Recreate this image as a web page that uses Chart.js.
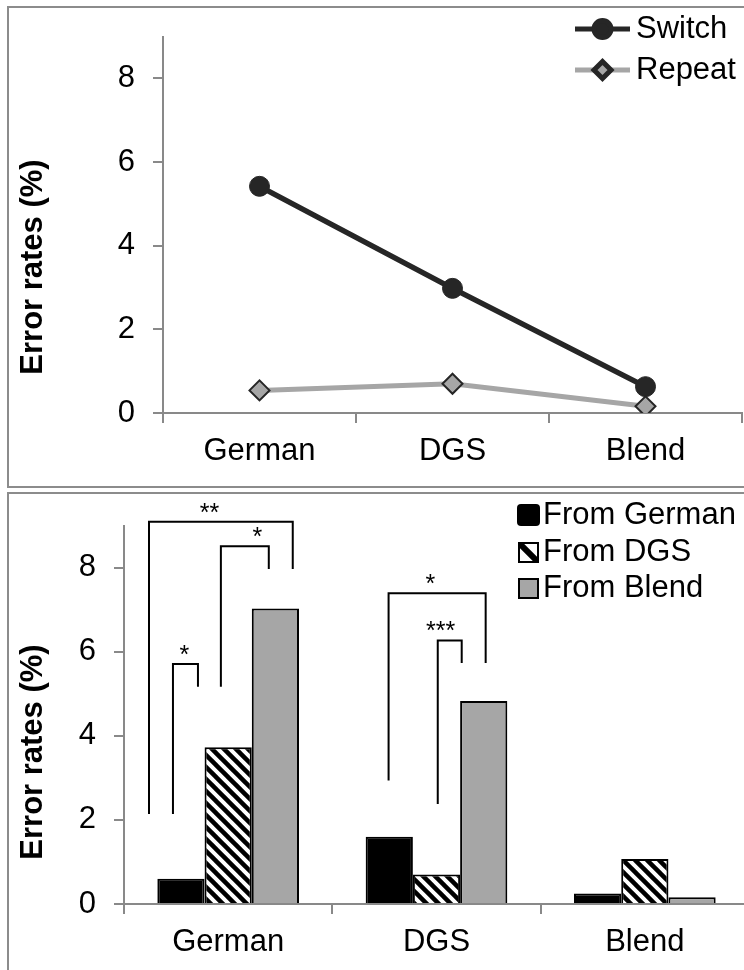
<!DOCTYPE html>
<html>
<head>
<meta charset="utf-8">
<script src="https://cdn.jsdelivr.net/npm/chart.js@4.4.1/dist/chart.umd.min.js"></script>
<style>
  html, body { margin: 0; padding: 0; background: #fff; overflow: hidden; width: 744px; height: 970px; }
  .frame { position: absolute; border: 2px solid #8c8c8c; box-sizing: border-box; }
  canvas { position: absolute; left: 0; }
</style>
</head>
<body>
<div class="frame" style="left:7px; top:6px; width:800px; height:482px;"></div>
<div class="frame" style="left:7px; top:492px; width:800px; height:600px;"></div>
<canvas id="lineChart" width="744" height="486" style="top:0"></canvas>
<canvas id="barChart" width="760" height="481" style="top:489px"></canvas>
<script>
// --- data ---
const categories = ['German', 'DGS', 'Blend'];
const switchRates = [5.42, 2.98, 0.63];
const repeatRates = [0.54, 0.70, 0.16];
const fromGerman = [0.60, 1.60, 0.25];
const fromDGS = [3.73, 0.70, 1.07];
const fromBlend = [7.03, 4.83, 0.16];
const yTicks = [0, 2, 4, 6, 8];
const yMax = 9;
const yTitle = 'Error rates (%)';

// significance brackets (x in category units, y in %)
const sigBrackets = [
  { label: '**',  x1: -0.38, x2: 0.31,  top: 9.09, leg1: 2.14, leg2: 7.97, labelX: -0.09 },
  { label: '*',   x1: -0.035, x2: 0.195, top: 8.51, leg1: 5.17, leg2: 7.97, labelX: 0.14 },
  { label: '*',   x1: -0.265, x2: -0.145, top: 5.71, leg1: 2.14, leg2: 5.17, labelX: -0.21 },
  { label: '*',   x1: 0.77,  x2: 1.236, top: 7.39, leg1: 2.94, leg2: 5.73, labelX: 0.97 },
  { label: '***', x1: 1.006, x2: 1.121, top: 6.27, leg1: 2.38, leg2: 5.73, labelX: 1.02 }
];

const axisGray = '#898989';
const fontFamily = "'Liberation Sans', Arial, sans-serif";

// hatch pattern for the "From DGS" bars
const barCtx = document.getElementById('barChart').getContext('2d');
const makeHatch = () => {
  const c = document.createElement('canvas');
  c.width = 12; c.height = 12;
  const g = c.getContext('2d');
  g.fillStyle = '#fff';
  g.fillRect(0, 0, 12, 12);
  g.strokeStyle = '#000';
  g.lineWidth = 4.5;
  [-12, 0, 12].forEach(k => {
    g.beginPath();
    g.moveTo(k - 2, -2);
    g.lineTo(k + 14, 14);
    g.stroke();
  });
  return barCtx.createPattern(c, 'repeat');
};
const hatch = makeHatch();

// --- shared axis setup ---
const makeY = (w) => ({
  min: 0,
  max: yMax,
  afterBuildTicks: s => { s.ticks = yTicks.map(v => ({ value: v })); },
  afterFit: s => { s.width = w; },
  border: { display: true, color: axisGray, width: 2 },
  grid: { display: true, drawOnChartArea: false, drawTicks: true, tickLength: 10, color: axisGray, lineWidth: 2 },
  ticks: { color: '#000', font: { family: fontFamily, size: 31 }, padding: 18 }
});
const makeX = (h) => ({
  type: 'category',
  offset: true,
  afterFit: s => { s.height = h; },
  border: { display: true, color: axisGray, width: 2 },
  grid: { display: true, offset: true, drawOnChartArea: false, drawTicks: true, tickLength: 10, color: axisGray, lineWidth: 2 },
  ticks: { color: '#000', font: { family: fontFamily, size: 31 }, padding: 10, maxRotation: 0, autoSkip: false }
});

// rotated y title
const yTitlePlugin = {
  id: 'yTitle',
  afterDraw(chart, args, opts) {
    const ctx = chart.ctx;
    ctx.save();
    ctx.translate(opts.x, opts.y);
    ctx.rotate(-Math.PI / 2);
    ctx.font = `bold 31px ${fontFamily}`;
    ctx.fillStyle = '#000';
    ctx.textAlign = 'center';
    ctx.textBaseline = 'middle';
    ctx.fillText(yTitle, 0, 0);
    ctx.restore();
  }
};

// legend with line + marker (top chart)
const lineLegendPlugin = {
  id: 'lineLegend',
  afterDraw(chart, args, opts) {
    const ctx = chart.ctx;
    chart.data.datasets.forEach((ds, i) => {
      const y = opts.rows[i];
      ctx.save();
      ctx.strokeStyle = ds.borderColor;
      ctx.lineWidth = 5;
      ctx.beginPath();
      ctx.moveTo(opts.x1, y);
      ctx.lineTo(opts.x2, y);
      ctx.stroke();
      ctx.fillStyle = ds.pointBackgroundColor;
      ctx.strokeStyle = ds.pointBorderColor;
      Chart.helpers.drawPoint(ctx, { pointStyle: ds.pointStyle, radius: 8.5, borderWidth: ds.pointBorderWidth, rotation: 0 }, (opts.x1 + opts.x2) / 2, y);
      ctx.fillStyle = '#000';
      ctx.font = `31px ${fontFamily}`;
      ctx.textAlign = 'left';
      ctx.textBaseline = 'middle';
      ctx.fillText(ds.label, opts.textX, y);
      ctx.restore();
    });
  }
};

// legend with boxes (bar chart)
const boxLegendPlugin = {
  id: 'boxLegend',
  afterDraw(chart, args, opts) {
    const ctx = chart.ctx;
    chart.data.datasets.forEach((ds, i) => {
      const y = opts.rows[i];
      ctx.save();
      if (i === 0) {
        ctx.fillStyle = '#000';
        ctx.beginPath();
        ctx.roundRect(opts.x - 11, y - 11, 23, 22, 4);
        ctx.fill();
      } else {
        ctx.fillStyle = i === 1 ? '#fff' : ds.backgroundColor;
        ctx.fillRect(opts.x - 9, y - 9, 19, 19);
        if (i === 1) {
          ctx.save();
          ctx.beginPath();
          ctx.rect(opts.x - 9, y - 9, 19, 19);
          ctx.clip();
          ctx.strokeStyle = '#000';
          ctx.lineWidth = 6;
          ctx.beginPath();
          ctx.moveTo(opts.x - 9, y - 9);
          ctx.lineTo(opts.x + 10, y + 10);
          ctx.stroke();
          ctx.restore();
        }
        ctx.strokeStyle = '#000';
        ctx.lineWidth = 2;
        ctx.strokeRect(opts.x - 9, y - 9, 19, 19);
      }
      ctx.fillStyle = '#000';
      ctx.font = `31px ${fontFamily}`;
      ctx.textAlign = 'left';
      ctx.textBaseline = 'middle';
      ctx.fillText(ds.label, opts.textX, y);
      ctx.restore();
    });
  }
};

// significance brackets
const bracketPlugin = {
  id: 'brackets',
  afterDatasetsDraw(chart) {
    const ctx = chart.ctx;
    const xs = chart.scales.x;
    const ys = chart.scales.y;
    const p0 = xs.getPixelForValue(0);
    const step = xs.getPixelForValue(1) - p0;
    const px = v => p0 + v * step;
    ctx.save();
    ctx.strokeStyle = '#000';
    ctx.lineWidth = 2;
    sigBrackets.forEach(b => {
      const top = ys.getPixelForValue(b.top);
      ctx.beginPath();
      ctx.moveTo(px(b.x1), ys.getPixelForValue(b.leg1));
      ctx.lineTo(px(b.x1), top);
      ctx.lineTo(px(b.x2), top);
      ctx.lineTo(px(b.x2), ys.getPixelForValue(b.leg2));
      ctx.stroke();
      ctx.fillStyle = '#000';
      ctx.font = `25px ${fontFamily}`;
      ctx.textAlign = 'center';
      ctx.textBaseline = 'alphabetic';
      ctx.fillText(b.label, px(b.labelX), top - 1);
    });
    ctx.restore();
  }
};

// --- top: line chart ---
new Chart(document.getElementById('lineChart').getContext('2d'), {
  type: 'line',
  data: {
    labels: categories,
    datasets: [{
      label: 'Switch',
      data: switchRates,
      borderColor: '#262626',
      backgroundColor: '#262626',
      borderWidth: 5.5,
      pointStyle: 'circle',
      pointRadius: 10,
      pointBackgroundColor: '#262626',
      pointBorderColor: '#262626',
      pointBorderWidth: 1,
      order: 1
    }, {
      label: 'Repeat',
      data: repeatRates,
      borderColor: '#a6a6a6',
      backgroundColor: '#a6a6a6',
      borderWidth: 5,
      pointStyle: 'rectRot',
      pointRadius: 10,
      pointBackgroundColor: '#a6a6a6',
      pointBorderColor: '#262626',
      pointBorderWidth: 2,
      order: 0
    }]
  },
  options: {
    responsive: false,
    animation: false,
    devicePixelRatio: 1,
    layout: { autoPadding: false, padding: { top: 30, right: 2, left: 0, bottom: 0 } },
    scales: { x: makeX(73), y: makeY(163) },
    plugins: {
      legend: { display: false },
      tooltip: { enabled: false },
      yTitle: { x: 33, y: 267 },
      lineLegend: { x1: 575, x2: 630, textX: 636, rows: [29, 70] }
    }
  },
  plugins: [yTitlePlugin, lineLegendPlugin]
});

// --- bottom: bar chart ---
new Chart(barCtx, {
  type: 'bar',
  data: {
    labels: categories,
    datasets: [{
      label: 'From German',
      data: fromGerman,
      backgroundColor: '#000',
      borderColor: '#000',
      borderWidth: 2
    }, {
      label: 'From DGS',
      data: fromDGS,
      backgroundColor: hatch,
      borderColor: '#000',
      borderWidth: 2
    }, {
      label: 'From Blend',
      data: fromBlend,
      backgroundColor: '#a6a6a6',
      borderColor: '#000',
      borderWidth: 2
    }]
  },
  options: {
    responsive: false,
    animation: false,
    devicePixelRatio: 1,
    categoryPercentage: 0.68,
    barPercentage: 1.0,
    layout: { autoPadding: false, padding: { top: 29, right: 11, left: 0, bottom: 0 } },
    scales: { x: makeX(66), y: makeY(124) },
    plugins: {
      legend: { display: false },
      tooltip: { enabled: false },
      yTitle: { x: 33, y: 263 },
      boxLegend: { x: 528, textX: 543, rows: [26, 63, 99] }
    }
  },
  plugins: [yTitlePlugin, boxLegendPlugin, bracketPlugin]
});
</script>
</body>
</html>
